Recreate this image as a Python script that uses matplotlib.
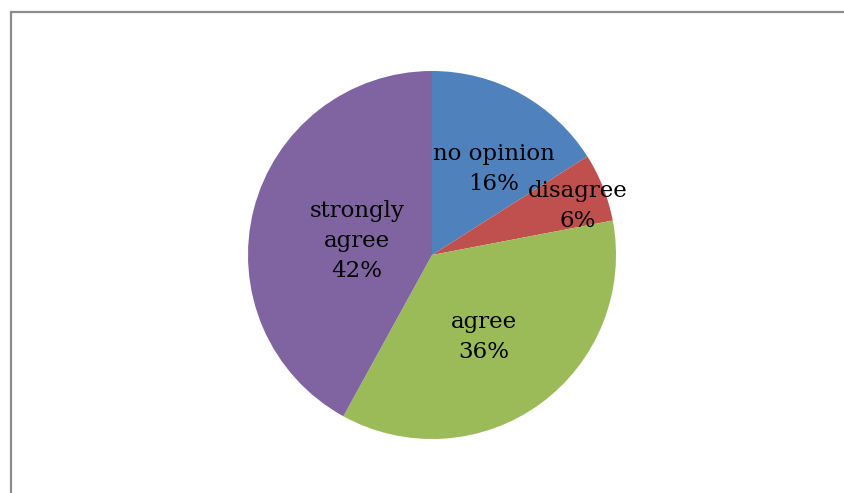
import matplotlib.pyplot as plt
from matplotlib.patches import Rectangle
import numpy as np

# survey answers, clockwise from 12 o'clock
labels = ['no opinion', 'disagree', 'agree', 'strongly\nagree']
shares = [16, 6, 36, 42]
colors = ['#4F81BD', '#C0504D', '#9BBB59', '#8064A2']

# where each label sits: fraction of radius and angle nudge (deg)
label_r = [0.576, 0.837, 0.527, 0.415]
label_nudge = [-7, -3, -3.6, 3.8]

W, H = 844, 493
fig = plt.figure(figsize=(W / 100, H / 100), dpi=100)

# grey chart border, open at right and bottom
fig.patches.append(Rectangle((10.5 / W, -0.1), 2.0, 1 - 11.5 / H + 0.1,
                             transform=fig.transFigure, fill=False,
                             edgecolor='#8c8c8c', linewidth=1.6))

cx, cy, R = 432, 238, 184
ax = fig.add_axes([(cx - R) / W, (cy - R) / H, 2 * R / W, 2 * R / H])
ax.pie(shares, colors=colors, startangle=90, counterclock=False,
       radius=1.0, wedgeprops=dict(linewidth=0))
ax.set_xlim(-1, 1)
ax.set_ylim(-1, 1)
ax.set_aspect('equal')
ax.axis('off')

total = float(sum(shares))
start = 90.0
for lab, v, rf, nd in zip(labels, shares, label_r, label_nudge):
    mid = start - 360 * v / total / 2
    start -= 360 * v / total
    a = np.radians(mid + nd)
    ax.text(rf * np.cos(a), rf * np.sin(a), '%s\n%d%%' % (lab, v),
            ha='center', va='center', fontsize=16.5, family='DejaVu Serif',
            linespacing=1.45, color='black')

fig.savefig('out.png', dpi=100)
